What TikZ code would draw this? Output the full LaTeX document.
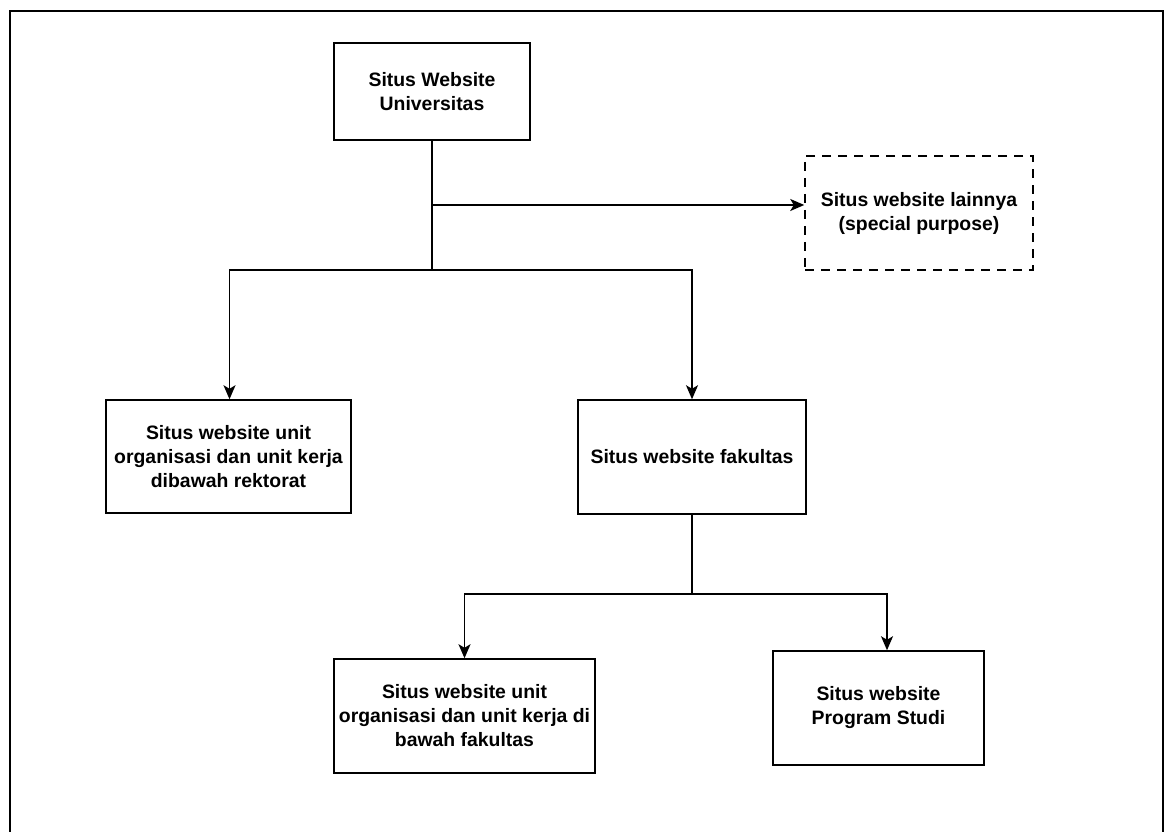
\documentclass[tikz,border=0pt]{standalone}
\usepackage{fontspec}
\setmainfont{Liberation Sans}
\usetikzlibrary{arrows.meta}
\tikzset{
    box/.style={draw, rectangle, inner sep=0pt, align=center,
        font=\fontsize{19.4}{24}\selectfont\bfseries},
    otherbox/.style={box, dash pattern=on 9pt off 7pt},
    link/.style={-{Stealth[length=14pt,width=12pt,inset=3.5pt]}}
}
\begin{document}
\begin{tikzpicture}[line width=1.5pt, x=1pt, y=1pt]
        \useasboundingbox (0,0) rectangle (1164,832);
        \draw (10,0) -- (10,821) -- (1163,821) -- (1163,0);
        \node[box, minimum width=196, minimum height=97] (univ) at (432,740.5)
            {Situs Website\\Universitas};
        \node[otherbox, minimum width=228, minimum height=114] (lain) at (919,619)
            {Situs website lainnya\\(special purpose)};
        \node[box, minimum width=245, minimum height=113] (rektorat) at (228.5,375.5)
            {Situs website unit\\organisasi dan unit kerja\\dibawah rektorat};
        \node[box, minimum width=228, minimum height=114] (fakultas) at (692,375)
            {Situs website fakultas};
        \node[box, minimum width=261, minimum height=114] (unitfak) at (464.5,116)
            {Situs website unit\\organisasi dan unit kerja di\\bawah fakultas};
        \node[box, minimum width=211, minimum height=114] (prodi) at (878.5,124)
            {Situs website\\Program Studi};
        \coordinate (s1) at (432,627);
        \coordinate (s2) at (432,562);
        \coordinate (s3) at (692,238);
        \draw (univ.south) -- (s2);
        \draw[link] (s1) -- (s1 -| lain.west);
        \draw[link] (s2) -| ([xshift=1pt]rektorat.north);
        \draw[link] (s2) -| (fakultas.north);
        \draw (fakultas.south) -- (s3);
        \draw[link] (s3) -| (unitfak.north);
        \draw[link] (s3) -| ([xshift=8.5pt]prodi.north);
    \end{tikzpicture}
\end{document}
